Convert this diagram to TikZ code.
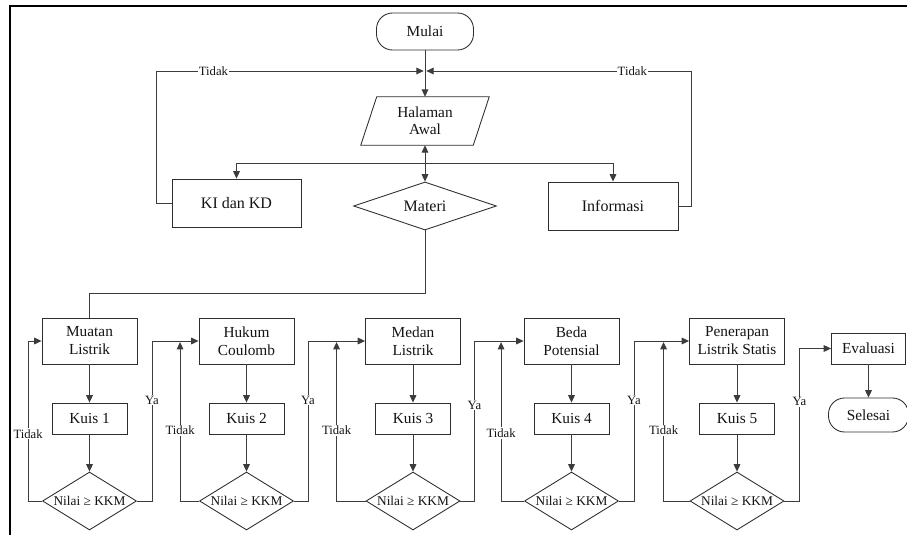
\documentclass[tikz,border=0pt]{standalone}
\usepackage{fontspec}
\setmainfont{Liberation Serif}
\usetikzlibrary{shapes.geometric,arrows.meta,calc}
\definecolor{ln}{HTML}{3C3C3C}
\definecolor{bd}{HTML}{2E2E2E}
\definecolor{tx}{HTML}{141414}
\begin{document}
\begin{tikzpicture}[x=0.75pt,y=-0.75pt,
  every node/.style={text=tx},
  line/.style={draw=ln,line width=0.65pt},
  arr/.style={line,-{Triangle[length=5.5pt,width=5pt]}},
  darr/.style={line,{Triangle[length=5.5pt,width=5pt]}-{Triangle[length=5.5pt,width=5pt]}},
  box/.style={draw=bd,line width=0.65pt,minimum width=71.25pt,minimum height=34.5pt,inner sep=1pt,align=center,font=\fontsize{11.5}{13.5}\selectfont},
  bigbox/.style={draw=bd,line width=0.65pt,minimum width=97pt,minimum height=36pt,inner sep=1pt,align=center,font=\fontsize{12}{14}\selectfont},
  kuis/.style={draw=bd,line width=0.65pt,minimum width=56.25pt,minimum height=23.25pt,inner sep=1pt,font=\fontsize{11.5}{13.5}\selectfont},
  term/.style={draw=bd,line width=0.65pt,rounded corners=12pt,inner sep=1pt,font=\fontsize{11.5}{13.5}\selectfont},
  dec/.style={draw=bd,line width=0.65pt,shape=diamond,aspect=1.62,inner sep=0pt,minimum width=70.5pt,minimum height=43.5pt,font=\fontsize{10}{12}\selectfont},
  lbl/.style={fill=white,inner sep=0.8pt,font=\fontsize{9.5}{10}\selectfont}
]
\useasboundingbox (0,0) rectangle (907,535);
\fill[white] (0,0) rectangle (907,535);
% frame
\draw[line width=1.5pt,black] (907,6) -- (10,6) -- (10,535);

% top part
\node[term,minimum width=72.75pt,minimum height=27.75pt] (mulai) at (425,31.5) {Mulai};
\node[minimum width=84pt,minimum height=36pt,inner sep=0pt,align=center,font=\fontsize{11.5}{12.5}\selectfont] (ha) at (425,121) {Halaman\\Awal};
\draw[bd,line width=0.65pt] ($(ha.north west)+(8,0)$) -- ($(ha.north east)+(8,0)$) -- ($(ha.south east)+(-8,0)$) -- ($(ha.south west)+(-8,0)$) -- cycle;
\node[dec,aspect=2.97,minimum width=107pt,minimum height=36pt,font=\fontsize{12}{14}\selectfont] (materi) at (425,206) {Materi};
\node[bigbox,minimum width=96.75pt] (kd) at (236.5,203) {KI dan KD};
\node[bigbox,minimum width=97.5pt] (info) at (613,206) {Informasi};

\coordinate (m) at (425,71);
\coordinate (j) at (425,163);
\coordinate (c1) at (89.5,293);

\draw[arr] (mulai.south) -- (ha.north);
\draw[darr] (ha.south) -- (materi.north);
\draw[arr] (j) -| (kd.north);
\draw[arr] (j) -| (info.north);
\draw[arr,shorten >=1pt] (kd.west) -- ++(-15,0) |- node[lbl,pos=0.606]{Tidak} (m);
\draw[arr,shorten >=1pt] (info.east) -- ++(13,0) |- node[lbl,pos=0.611]{Tidak} (m);

% bottom row
\node[box] (b1) at (89.5,341) {Muatan\\Listrik};
\node[box] (b2) at (246.5,341) {Hukum\\Coulomb};
\node[box] (b3) at (413,341) {Medan\\Listrik};
\node[box] (b4) at (571.5,341) {Beda\\Potensial};
\node[box] (b5) at (737,341) {Penerapan\\Listrik Statis};

\node[kuis] (k1) at (89.5,418.5) {Kuis 1};
\node[kuis] (k2) at (246.5,418.5) {Kuis 2};
\node[kuis] (k3) at (413,418.5) {Kuis 3};
\node[kuis] (k4) at (571.5,418.5) {Kuis 4};
\node[kuis] (k5) at (737,418.5) {Kuis 5};

\node[dec] (d1) at (89.5,501) {Nilai ≥ KKM};
\node[dec] (d2) at (246.5,501) {Nilai ≥ KKM};
\node[dec] (d3) at (413,501) {Nilai ≥ KKM};
\node[dec] (d4) at (571.5,501) {Nilai ≥ KKM};
\node[dec] (d5) at (737,501) {Nilai ≥ KKM};

\node[kuis,minimum width=55.5pt] (eval) at (868.5,348.5) {Evaluasi};
\node[term,minimum width=60pt,minimum height=25.5pt] (selesai) at (868.5,415) {Selesai};

\draw[line] (materi.south) |- (c1) -- (b1.north);

\foreach \i in {1,...,5}{
  \draw[arr] (b\i.south) -- (k\i.north);
  \draw[arr] (k\i.south) -- (d\i.north);
}
\draw[arr] (eval.south) -- (selesai.north);

% Tidak loops
\draw[arr] (d1.west) -- ++(-14,0) |- node[lbl,pos=0.21]{Tidak} (b1.west);
\draw[arr,shorten >=0.8pt] (d2.west) -- ++(-19,0) coordinate (t2) -- node[lbl,pos=0.44]{Tidak} (t2 |- b2.west);
\draw[arr,shorten >=0.8pt] (d3.west) -- ++(-29,0) coordinate (t3) -- node[lbl,pos=0.44]{Tidak} (t3 |- b3.west);
\draw[arr,shorten >=0.8pt] (d4.west) -- ++(-23,0) coordinate (t4) -- node[lbl,pos=0.425]{Tidak} (t4 |- b4.west);
\draw[arr,shorten >=0.8pt] (d5.west) -- ++(-26,0) coordinate (t5) -- node[lbl,pos=0.44]{Tidak} (t5 |- b5.west);

% Ya connections
\draw[arr] (d1.east) -- ++(15,0) |- node[lbl,pos=0.315]{Ya} (b2.west);
\draw[arr] (d2.east) -- ++(14,0) |- node[lbl,pos=0.315]{Ya} (b3.west);
\draw[arr] (d3.east) -- ++(14,0) |- node[lbl,pos=0.30]{Ya} (b4.west);
\draw[arr] (d4.east) -- ++(15,0) |- node[lbl,pos=0.315]{Ya} (b5.west);
\draw[arr] (d5.east) -- ++(15,0) |- node[lbl,pos=0.325]{Ya} (eval.west);
\end{tikzpicture}
\end{document}
